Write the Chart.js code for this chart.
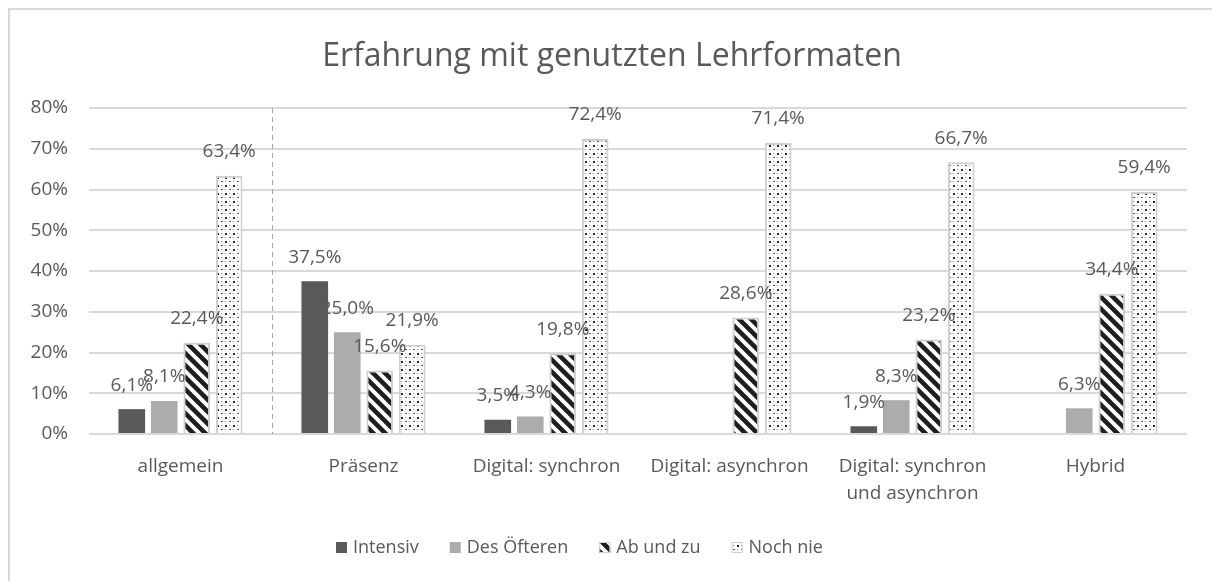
<!DOCTYPE html>
<html>
<head>
<meta charset="utf-8">
<script src="https://cdn.jsdelivr.net/npm/chart.js@4/dist/chart.umd.min.js"></script>
<style>
html,body{margin:0;padding:0;background:#fff;}
#wrap{width:1212px;height:581px;position:relative;}
</style>
</head>
<body>
<div id="wrap"><canvas id="c" width="1212" height="581"></canvas></div>
<script>
const title = 'Erfahrung mit genutzten Lehrformaten';
const categories = ['allgemein', 'Präsenz', 'Digital: synchron', 'Digital: asynchron', ['Digital: synchron', 'und asynchron'], 'Hybrid'];
const seriesNames = ['Intensiv', 'Des Öfteren', 'Ab und zu', 'Noch nie'];
const intensiv = [6.1, 37.5, 3.5, null, 1.9, null];
const desOefteren = [8.1, 25.0, 4.3, null, 8.3, 6.3];
const abUndZu = [22.4, 15.6, 19.8, 28.6, 23.2, 34.4];
const nochNie = [63.4, 21.9, 72.4, 71.4, 66.7, 59.4];
const yMin = 0, yMax = 80, yStep = 10;

const FONT = '"Open Sans", sans-serif';
const TXT = '#595959';

function stripePattern() {
  const s = 12;
  const c = document.createElement('canvas');
  c.width = s; c.height = s;
  const x = c.getContext('2d');
  x.fillStyle = '#fff'; x.fillRect(0, 0, s, s);
  x.strokeStyle = '#1f1f1f'; x.lineWidth = 4.6; x.lineCap = 'square';
  for (let k = -1; k <= 1; k++) {
    x.beginPath(); x.moveTo(k * s - 2, -2); x.lineTo(k * s + s + 2, s + 2); x.stroke();
  }
  return x.createPattern(c, 'repeat');
}
function dotPattern() {
  const s = 8;
  const c = document.createElement('canvas');
  c.width = s; c.height = s;
  const x = c.getContext('2d');
  x.fillStyle = '#fff'; x.fillRect(0, 0, s, s);
  x.fillStyle = '#2a2a2a';
  x.fillRect(1, 1, 2, 2);
  x.fillStyle = '#555';
  x.fillRect(5, 5, 2, 1);
  x.fillStyle = '#8a8a8a';
  x.fillRect(5, 1, 1, 1);
  x.fillRect(1, 5, 1, 1);
  return x.createPattern(c, 'repeat');
}
const stripes = stripePattern();
const dots = dotPattern();

const fills = ['#595959', '#aeabab', stripes, dots];
const borders = ['#595959', '#aeabab', '#cfcfcf', '#cfcfcf'];
const bw = [0, 0, 2, 2];
const values = [intensiv, desOefteren, abUndZu, nochNie];

const frame = {
  id: 'frame',
  beforeDraw(chart) {
    const ctx = chart.ctx;
    ctx.save();
    ctx.fillStyle = '#fff';
    ctx.fillRect(0, 0, chart.width, chart.height);
    ctx.strokeStyle = '#d9d9d9';
    ctx.lineWidth = 2;
    ctx.strokeRect(9, 9, chart.width + 20, chart.height + 20);
    ctx.restore();
  },
  afterDraw(chart) {
    const ctx = chart.ctx;
    ctx.save();
    ctx.fillStyle = TXT;
    ctx.font = '32px ' + FONT;
    ctx.textAlign = 'center';
    ctx.textBaseline = 'middle';
    ctx.fillText(title, 612, 57);
    ctx.font = '18px ' + FONT;
    ctx.textAlign = 'left';
    let x = 336;
    const y = 548;
    chart.data.datasets.forEach((ds) => {
      ctx.fillStyle = ds.backgroundColor;
      ctx.fillRect(x, y - 6, 11, 11);
      if (ds.borderWidth) {
        ctx.strokeStyle = '#cfcfcf'; ctx.lineWidth = 1;
        ctx.strokeRect(x + 0.5, y - 5.5, 10, 10);
      }
      ctx.fillStyle = TXT;
      ctx.fillText(ds.label, x + 17, y);
      x += 17 + ctx.measureText(ds.label).width + 31;
    });
    ctx.restore();
  },
  beforeDatasetsDraw(chart) {
    const ctx = chart.ctx;
    const xs = chart.scales.x;
    const a = chart.chartArea;
    const px = (xs.getPixelForValue(0) + xs.getPixelForValue(1)) / 2;
    ctx.save();
    ctx.strokeStyle = '#a6a6a6';
    ctx.lineWidth = 1;
    ctx.setLineDash([5, 4]);
    ctx.beginPath();
    ctx.moveTo(Math.round(px) + 0.5, a.top);
    ctx.lineTo(Math.round(px) + 0.5, a.bottom);
    ctx.stroke();
    ctx.restore();
  },
  afterDatasetsDraw(chart) {
    const ctx = chart.ctx;
    ctx.save();
    ctx.fillStyle = TXT;
    ctx.font = '19px ' + FONT;
    ctx.textAlign = 'center';
    ctx.textBaseline = 'middle';
    chart.data.datasets.forEach((ds, i) => {
      const meta = chart.getDatasetMeta(i);
      meta.data.forEach((bar, j) => {
        const v = ds.data[j];
        if (v === null || v === undefined) return;
        ctx.fillText(v.toFixed(1).replace('.', ',') + '%', bar.x, bar.y - 24);
      });
    });
    ctx.restore();
  }
};

new Chart(document.getElementById('c'), {
  type: 'bar',
  data: {
    labels: categories,
    datasets: seriesNames.map((n, i) => ({
      label: n,
      data: values[i],
      backgroundColor: fills[i],
      borderColor: borders[i],
      borderWidth: bw[i],
      categoryPercentage: 0.71,
      barPercentage: 0.82
    }))
  },
  options: {
    responsive: false,
    animation: false,
    devicePixelRatio: 1,
    layout: { padding: { top: 108, right: 25, left: 0, bottom: 0 } },
    plugins: { legend: { display: false }, title: { display: false }, tooltip: { enabled: false } },
    scales: {
      x: {
        grid: { display: false, drawTicks: false },
        border: { display: false },
        ticks: { color: TXT, font: { family: FONT, size: 19, lineHeight: 1.42 }, padding: 19, maxRotation: 0, autoSkip: false },
        afterFit(s) { s.height = 147; }
      },
      y: {
        min: yMin, max: yMax,
        grid: { color: '#d9d9d9', lineWidth: 2, drawTicks: false },
        border: { display: false },
        ticks: { stepSize: yStep, color: TXT, font: { family: FONT, size: 19 }, padding: 21, callback: v => v + '%' },
        afterFit(s) { s.width = 89; }
      }
    }
  },
  plugins: [frame]
});
</script>
</body>
</html>
